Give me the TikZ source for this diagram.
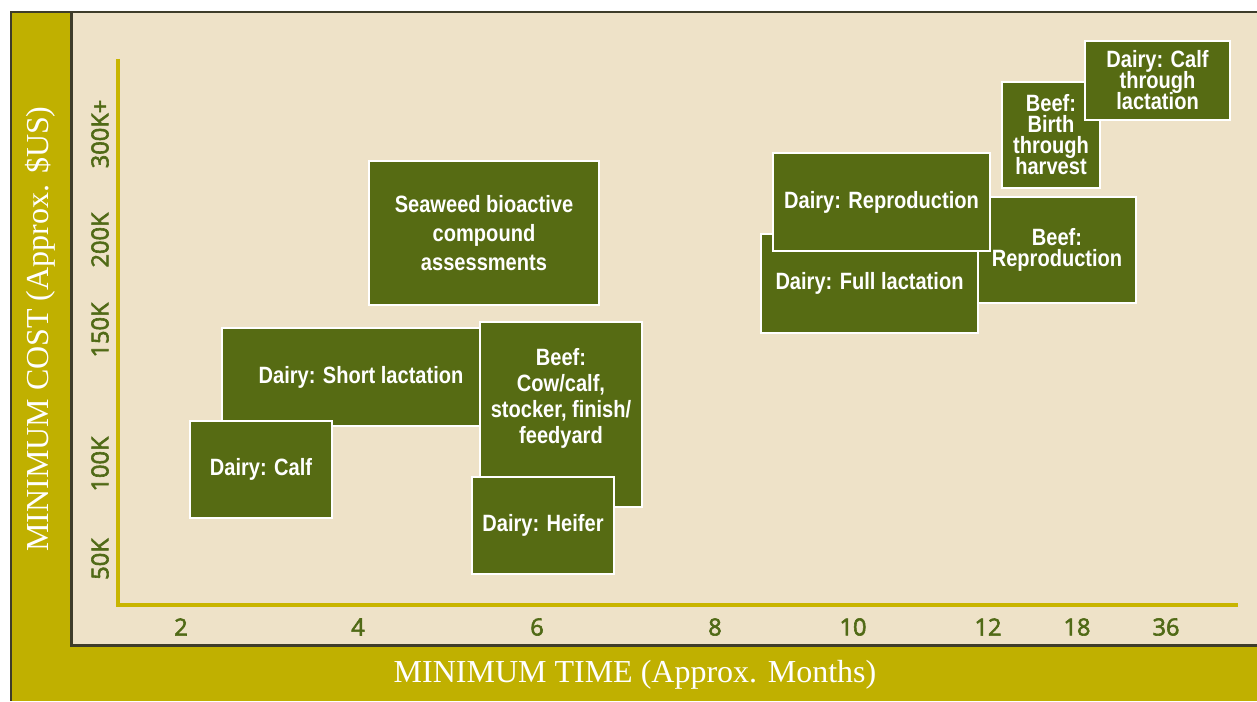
\documentclass[tikz,border=0pt]{standalone}
\usepackage{fontspec}
\setmainfont{Liberation Serif}
\newfontfamily\boxfont{Liberation Sans}[FakeStretch=0.85]
\newfontfamily\tickfont{Open Sans}[FakeBold=2.5]
\setlength{\lineskiplimit}{-20pt}

\definecolor{olivebg}{RGB}{192,176,0}
\definecolor{paper}{RGB}{238,226,200}
\definecolor{framegray}{RGB}{62,60,42}
\definecolor{boxgreen}{RGB}{86,107,19}
\definecolor{axisyellow}{RGB}{200,181,0}
\definecolor{tickgreen}{RGB}{80,106,22}

\begin{document}
\begin{tikzpicture}[x=0.5pt,y=-0.5pt,
    box/.style={draw=white, line width=0.7pt, fill=boxgreen, inner sep=0pt,
      text=white, align=center, font=\boxfont\bfseries\fontsize{11.8}{10.5}\selectfont},
    boxtext/.style={text=white, align=center, font=\boxfont\bfseries\fontsize{11.8}{13}\selectfont},
    tick/.style={text=tickgreen, font=\tickfont\fontsize{11.8}{12}\selectfont},
    axis/.style={draw=axisyellow, line width=1.8pt},
    frame/.style={draw=framegray, line width=1.3pt},
    title/.style={text=white, font=\fontsize{16}{18}\selectfont}]
    \useasboundingbox (0,0) rectangle (1257,701);
    \fill[white] (0,0) rectangle (1257,701);
    % panels
    \fill[olivebg] (11,12) rectangle (1257,701);
    \fill[paper] (71.5,12) rectangle (1257,645.5);
    \draw[frame] (11,701) -- (11,12) -- (1257,12);
    \draw[frame] (71.5,12) -- (71.5,645.5) -- (1257,645.5);
    % axes
    \coordinate (ytop) at (118,59);
    \coordinate (origin) at (118,605);
    \coordinate (xend) at (1238,605);
    \draw[axis] (ytop) -- (origin) -- (xend);
    \foreach \px/\lab in {181/2,358/4,537/6,715/8,853/10,988/12,1077/18,1166/36}
      \node[tick] (x\lab) at (\px,627) {\lab};
    \foreach \py/\lab [count=\i] in {134/300K+,240/200K,330/150K,464/100K,559/50K}
      \node[tick, rotate=90] (y\i) at (100,\py) {\lab};
    \node[title, rotate=90] (ytitle) at (40,329) {MINIMUM COST (Approx. \$US)};
    \node[title] (xtitle) at (635,675) {MINIMUM TIME (Approx. Months)};
    % boxes, back to front
    \node[box, minimum width=139pt, minimum height=49pt] (shortlac) at (361,377) {Dairy: Short lactation};
    \node[box, minimum width=115pt, minimum height=72pt, font=\boxfont\bfseries\fontsize{11.8}{14.5}\selectfont]
      (seaweed) at (484,233) {Seaweed bioactive\\compound\\assessments};
    \node[box, minimum width=81pt, minimum height=92.5pt,
      label={[boxtext, yshift=8.25pt]center:{Beef:\\Cow/calf,\\stocker, finish/\\feedyard}}] (beefcow) at (561,414.5) {};
    \node[box, minimum width=71pt, minimum height=48.5pt] (calf) at (261,469.5) {Dairy: Calf};
    \node[box, minimum width=71pt, minimum height=48.5pt] (heifer) at (543,525.5) {Dairy: Heifer};
    \node[box, minimum width=79pt, minimum height=53pt] (beefrepro) at (1057,250) {Beef:\\Reproduction};
    \node[box, minimum width=108.5pt, minimum height=49.5pt] (fulllac) at (869.5,283.5) {Dairy: Full lactation};
    \node[box, minimum width=108.5pt, minimum height=49pt] (dairyrepro) at (881.5,202) {Dairy: Reproduction};
    \node[box, minimum width=49pt, minimum height=53pt] (beefbirth) at (1051,135) {Beef:\\Birth\\through\\harvest};
    \node[box, minimum width=72.5pt, minimum height=39.5pt] (calflac) at (1157.5,80.5) {Dairy: Calf\\through\\lactation};
\end{tikzpicture}
\end{document}
